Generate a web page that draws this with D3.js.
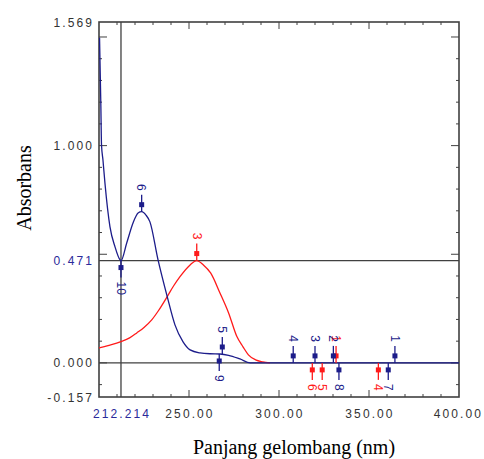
<!DOCTYPE html>
<html>
<head>
<meta charset="utf-8">
<script src="https://cdn.jsdelivr.net/npm/d3@7"></script>
<style>
  html, body { margin: 0; padding: 0; background: #fff; }
  svg { display: block; }
  .tick-label { font-family: "Liberation Sans", Arial, sans-serif; font-size: 12px; letter-spacing: 2.1px; fill: #333; }
  .axis-title { font-family: "Liberation Serif", "Times New Roman", serif; font-size: 20px; fill: #000; }
  .peak-label { font-family: "Liberation Sans", Arial, sans-serif; font-size: 12px; }
</style>
</head>
<body>
<div id="chart"></div>
<script>
// Spectrum: wavelength (nm) and absorbance
const blueWavelengths = [200.3, 201, 201.4, 202.2, 203.3, 206.1, 208.9, 211.7, 212.214, 215.4, 218.9, 221.7, 223.7, 226.1, 228.3, 232.8, 237.9, 242.2, 246.7, 250.6, 256.1, 261.7, 267.2, 272, 278.3, 284, 300, 350, 400];
const blueAbsorbance = [1.496, 1.2, 1.003, 0.934, 0.828, 0.626, 0.534, 0.474, 0.471, 0.552, 0.644, 0.69, 0.696, 0.68, 0.649, 0.474, 0.305, 0.175, 0.097, 0.06, 0.046, 0.042, 0.041, 0.035, 0.018, 0, 0, 0, 0];

const redWavelengths = [200, 205, 212.214, 217, 221, 225, 229.3, 233, 237.9, 241.5, 245, 250.6, 254.3, 258, 262, 267.2, 272, 276.6, 280, 283, 287, 291, 295];
const redAbsorbance = [0.069, 0.08, 0.098, 0.115, 0.138, 0.163, 0.198, 0.24, 0.305, 0.355, 0.397, 0.451, 0.471, 0.451, 0.414, 0.322, 0.23, 0.121, 0.074, 0.037, 0.014, 0.005, 0];

// Picked peaks and valleys: [label, wavelength, absorbance]
const bluePeaks = [["6", 223.7, 0.696], ["5", 268.5, 0.041], ["4", 307.9, 0], ["3", 320, 0], ["2", 330.2, 0], ["1", 364.4, 0]];
const blueValleys = [["10", 212.214, 0.471], ["9", 266.8, 0.041], ["8", 333.3, 0], ["7", 360.7, 0]];
const redPeaks = [["3", 254.3, 0.471], ["1", 331.7, 0]];
const redValleys = [["6", 318.5, 0], ["5", 324, 0], ["4", 355.2, 0]];

const xTickLabels = ["212.214", "250.00", "300.00", "350.00", "400.00"];
const xTickValues = [212.214, 250, 300, 350, 400];
const yTickLabels = ["1.569", "1.000", "0.471", "0.000", "-0.157"];
const yTickValues = [1.569, 1, 0.471, 0, -0.157];
const cursorWavelength = 212.214;
const cursorAbsorbance = 0.471;

const width = 484, height = 459;
const blue = "#1c1c8a", red = "#ff1a1a", frameColor = "#404040", cursorBlue = "#2a2a9a";

const x = d3.scaleLinear().domain([200, 400]).range([99, 459]);
const y = d3.scaleLinear().domain([-0.157, 1.569]).range([397, 22]);

const svg = d3.select("#chart").append("svg")
  .attr("width", width)
  .attr("height", height);

svg.append("defs").append("clipPath").attr("id", "plot-clip")
  .append("rect")
  .attr("x", x(200)).attr("y", y(1.569))
  .attr("width", x(400) - x(200)).attr("height", y(-0.157) - y(1.569));

// Inward ticks on all four sides
const xMinor = d3.range(210, 400, 10);
const yMinor = d3.range(-1, 16).map((d) => d / 10);
const ticks = svg.append("g").attr("stroke", frameColor).attr("stroke-width", 1);

xMinor.forEach((v) => {
  const len = v % 50 === 0 ? 7 : 3;
  ticks.append("line").attr("x1", x(v)).attr("x2", x(v)).attr("y1", y(-0.157)).attr("y2", y(-0.157) - len);
  ticks.append("line").attr("x1", x(v)).attr("x2", x(v)).attr("y1", y(1.569)).attr("y2", y(1.569) + len);
});
yMinor.forEach((v) => {
  const len = Math.round(v * 10) % 5 === 0 ? 8 : 3;
  ticks.append("line").attr("x1", x(200)).attr("x2", x(200) + len).attr("y1", y(v)).attr("y2", y(v));
  ticks.append("line").attr("x1", x(400)).attr("x2", x(400) - len).attr("y1", y(v)).attr("y2", y(v));
});

// Cursor lines and zero line
const refs = svg.append("g").attr("stroke", frameColor).attr("stroke-width", 1.3);
refs.append("line").attr("x1", x(200)).attr("x2", x(400)).attr("y1", y(cursorAbsorbance)).attr("y2", y(cursorAbsorbance));
refs.append("line").attr("x1", x(cursorWavelength)).attr("x2", x(cursorWavelength)).attr("y1", y(1.569)).attr("y2", y(-0.157));
refs.append("line").attr("x1", x(200)).attr("x2", x(400)).attr("y1", y(0)).attr("y2", y(0));

// Frame
svg.append("rect")
  .attr("x", x(200)).attr("y", y(1.569))
  .attr("width", x(400) - x(200)).attr("height", y(-0.157) - y(1.569))
  .attr("fill", "none").attr("stroke", frameColor).attr("stroke-width", 1.6);

// Spectra
const line = d3.line()
  .x((d) => x(d[0]))
  .y((d) => y(d[1]))
  .curve(d3.curveMonotoneX);

const curves = svg.append("g").attr("clip-path", "url(#plot-clip)");
curves.append("path")
  .datum(d3.zip(redWavelengths, redAbsorbance))
  .attr("d", line).attr("fill", "none").attr("stroke", red).attr("stroke-width", 1.3);
curves.append("path")
  .datum(d3.zip(blueWavelengths, blueAbsorbance))
  .attr("d", line).attr("fill", "none").attr("stroke", blue).attr("stroke-width", 1.3);

// Peak / valley markers
function drawMarkers(data, color, dir) {
  const g = svg.append("g").selectAll("g").data(data).enter().append("g")
    .attr("transform", (d) => `translate(${x(d[1])},${y(d[2])})`);
  g.append("line")
    .attr("x1", 0).attr("x2", 0).attr("y1", 0).attr("y2", dir * 17)
    .attr("stroke", color).attr("stroke-width", 1.3);
  g.append("rect")
    .attr("x", -2.5).attr("y", dir * 7 - 2.5).attr("width", 5).attr("height", 5)
    .attr("fill", color);
  g.append("text")
    .attr("class", "peak-label")
    .attr("transform", `translate(0,${dir * 21}) rotate(90)`)
    .attr("text-anchor", dir < 0 ? "end" : "start")
    .attr("dy", "0.35em")
    .attr("fill", color)
    .text((d) => d[0]);
}
drawMarkers(redPeaks, red, -1);
drawMarkers(redValleys, red, 1);
drawMarkers(bluePeaks, blue, -1);
drawMarkers(blueValleys, blue, 1);

// Tick labels
const lastX = xTickValues.length - 1;
svg.append("g").selectAll("text").data(xTickValues).enter().append("text")
  .attr("class", "tick-label")
  .attr("x", (d, i) => (i === lastX ? width - 1 : x(d) + 1))
  .attr("y", 418)
  .attr("text-anchor", (d, i) => (i === lastX ? "end" : "middle"))
  .style("fill", (d, i) => (i === 0 ? cursorBlue : "#333"))
  .text((d, i) => xTickLabels[i]);

svg.append("g").selectAll("text").data(yTickValues).enter().append("text")
  .attr("class", "tick-label")
  .attr("x", 94)
  .attr("y", (d) => y(d) + 4.5)
  .attr("text-anchor", "end")
  .style("fill", (d, i) => (i === 2 ? cursorBlue : "#333"))
  .text((d, i) => yTickLabels[i]);

// Axis titles
svg.append("text")
  .attr("class", "axis-title")
  .attr("x", 294).attr("y", 454)
  .attr("text-anchor", "middle")
  .text("Panjang gelombang (nm)");

svg.append("text")
  .attr("class", "axis-title")
  .attr("transform", "translate(31,188) rotate(-90)")
  .attr("text-anchor", "middle")
  .text("Absorbans");
</script>
</body>
</html>
